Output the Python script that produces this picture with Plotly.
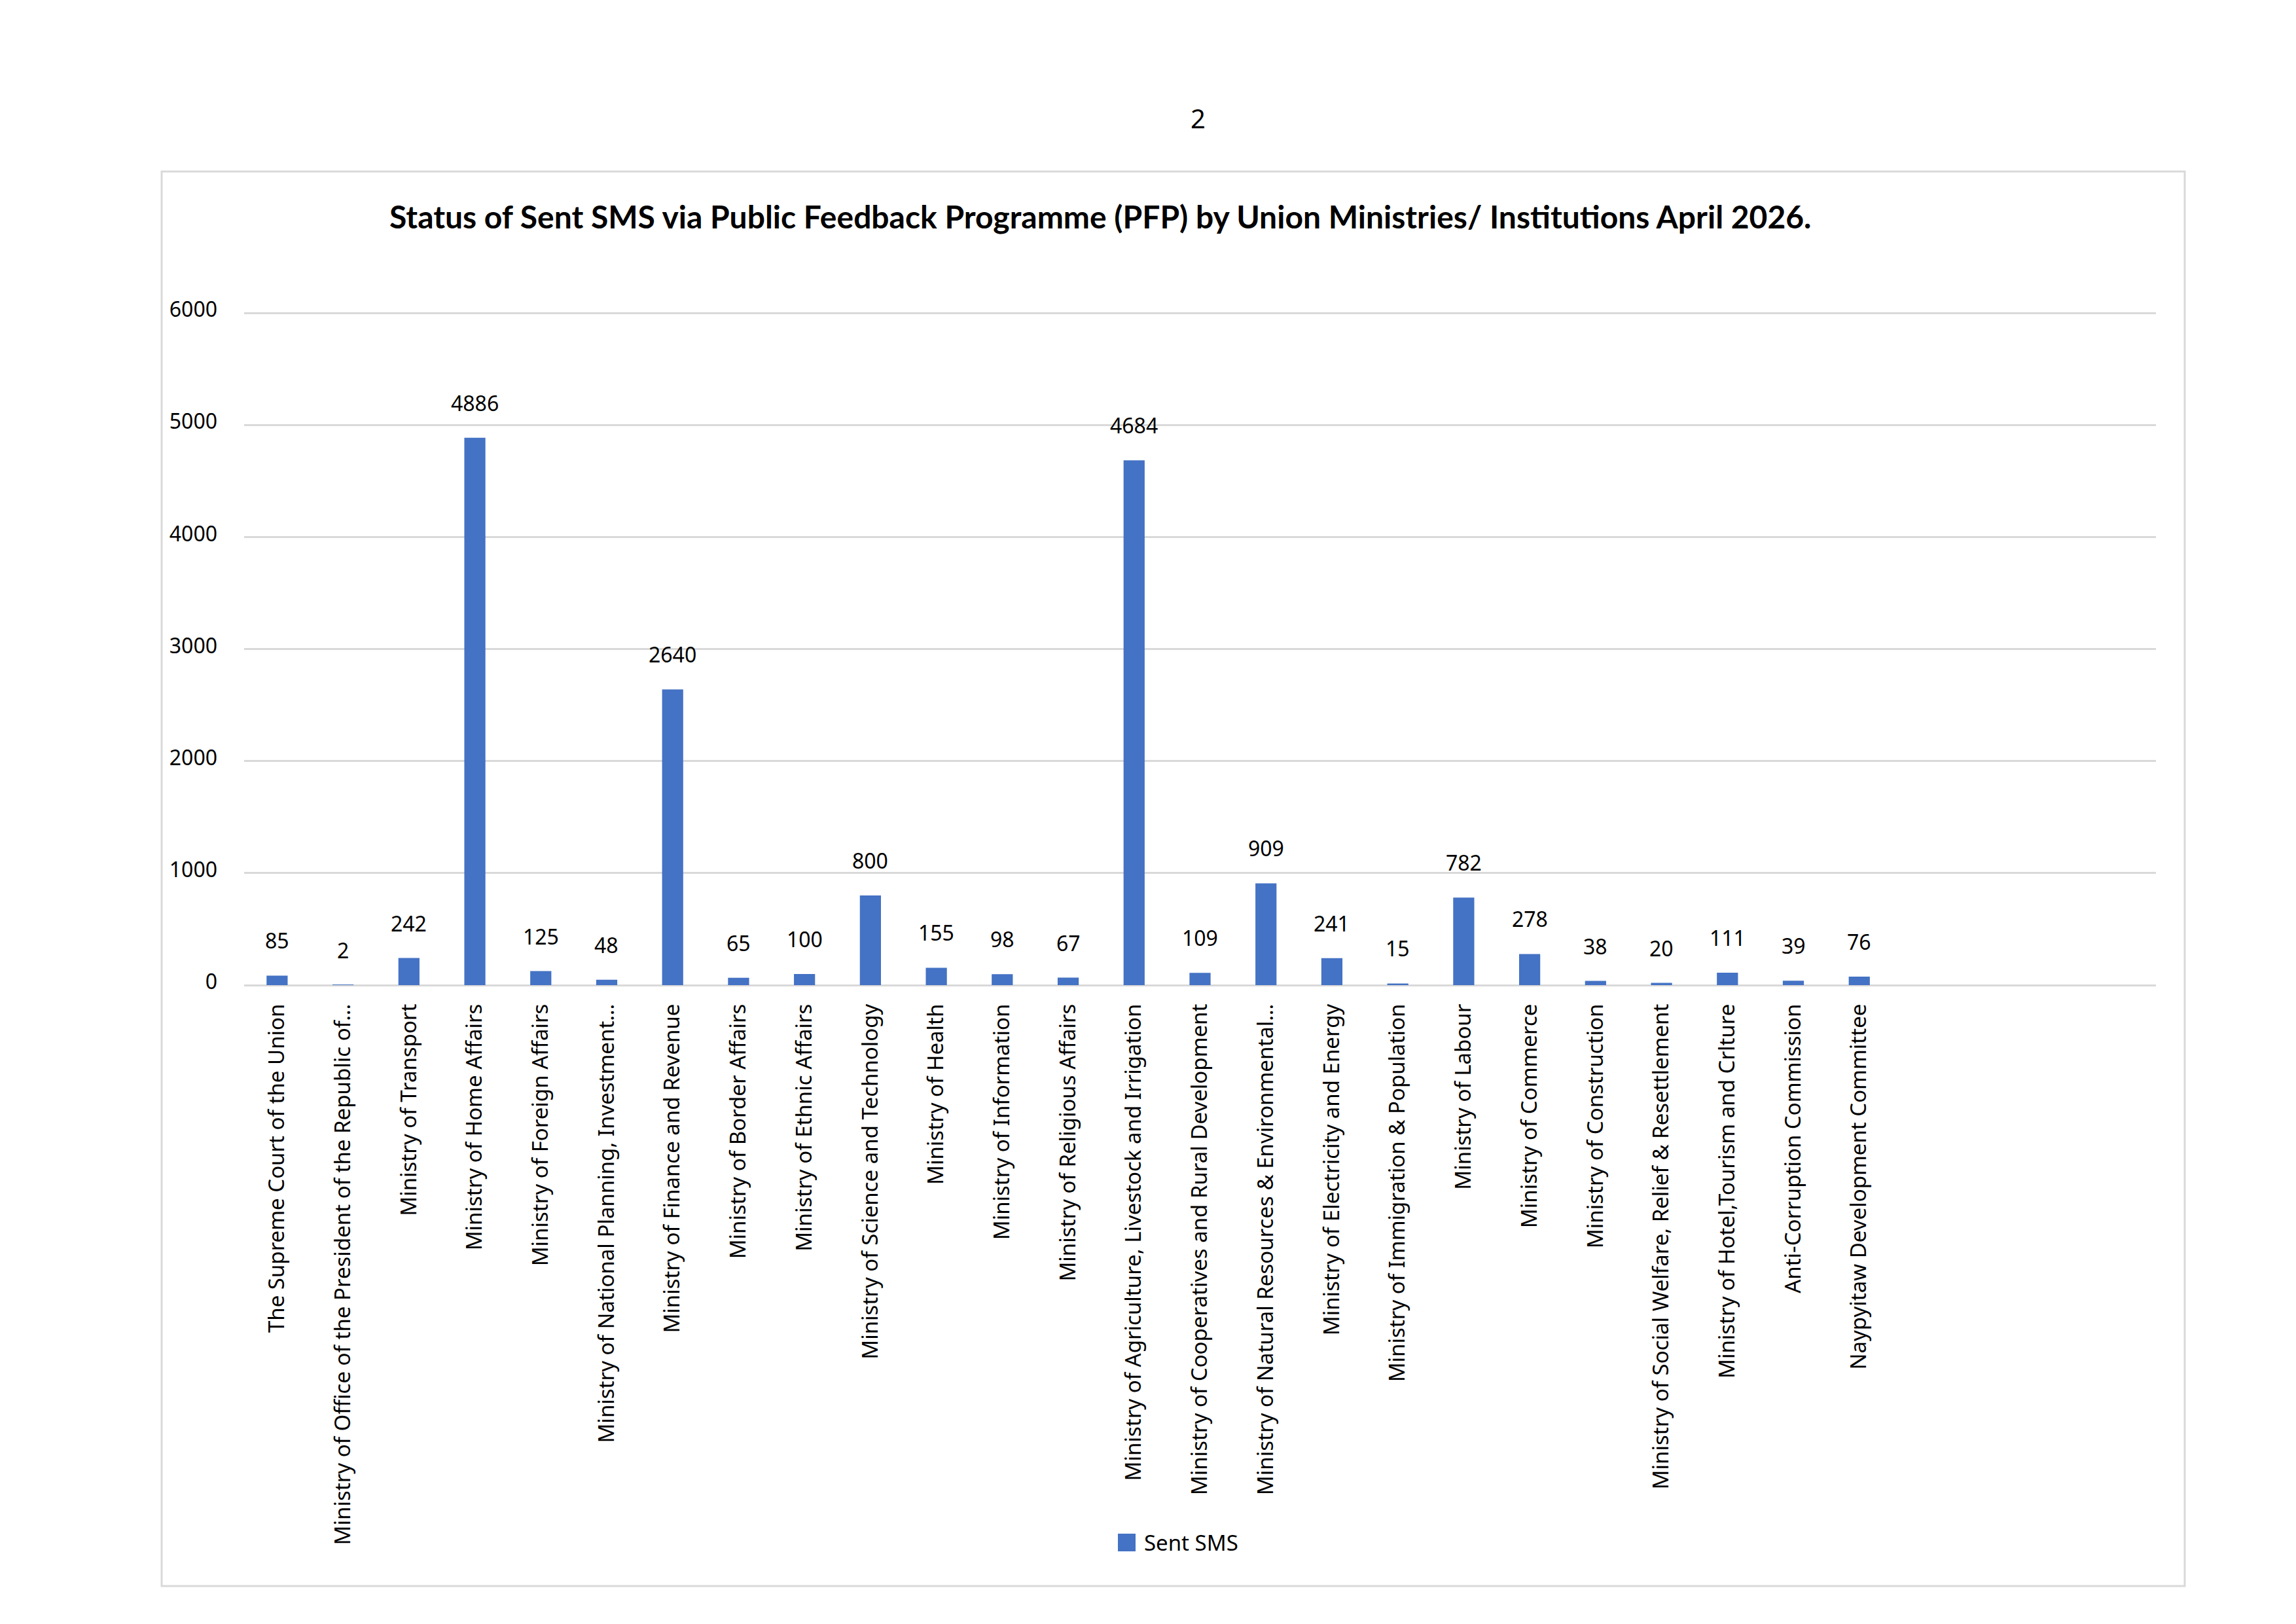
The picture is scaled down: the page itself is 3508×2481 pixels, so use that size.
import plotly.graph_objects as go

categories = [
    "The Supreme Court of the Union",
    "Ministry of Office of the President of the Republic of…",
    "Ministry of Transport",
    "Ministry of Home Affairs",
    "Ministry of Foreign Affairs",
    "Ministry of National Planning, Investment…",
    "Ministry of Finance and Revenue",
    "Ministry of Border Affairs",
    "Ministry of Ethnic Affairs",
    "Ministry of Science and Technology",
    "Ministry of Health",
    "Ministry of Information",
    "Ministry of Religious Affairs",
    "Ministry of Agriculture, Livestock and Irrigation",
    "Ministry of Cooperatives and Rural Development",
    "Ministry of Natural Resources & Environmental…",
    "Ministry of Electricity and Energy",
    "Ministry of Immigration & Population",
    "Ministry of Labour",
    "Ministry of Commerce",
    "Ministry of Construction",
    "Ministry of Social Welfare, Relief & Resettlement",
    "Ministry of Hotel,Tourism and Crlture",
    "Anti-Corruption Commission",
    "Naypyitaw Development Committee",
]
sent_sms = [85, 2, 242, 4886, 125, 48, 2640, 65, 100, 800, 155, 98, 67,
            4684, 109, 909, 241, 15, 782, 278, 38, 20, 111, 39, 76]
y_ticks = [0, 1000, 2000, 3000, 4000, 5000, 6000]
series_name = "Sent SMS"
title_text = ("Status of Sent SMS via Public Feedback Programme (PFP) by Union "
              "Ministries/ Institutions April 2026.")
page_number = "2"

W, H = 3508, 2481
OFF = 8  # default page body margin
L, R, T, B = 373, 3294, 476, 1505  # plot area in page pixels
Y_MAX = 6012  # a little headroom so the 6000 gridline is drawn
FONT = "Noto Sans"
TITLE_FONT = "Lato"
BLUE = "#4472C4"
GRID = "#D9D9D9"


def px_x(px):
    return (px - L) / (R - L)


def px_y(py):
    return (B - py) / (B - T)


fig = go.Figure()
fig.add_trace(go.Bar(
    x=categories, y=sent_sms, name=series_name,
    marker=dict(color=BLUE, line=dict(width=0)),
    width=0.32, showlegend=False,
))

for c, v in zip(categories, sent_sms):
    fig.add_annotation(x=c, y=v, xref="x", yref="y", text=str(v),
                       showarrow=False, yanchor="bottom", yshift=30,
                       font=dict(family=FONT, size=32, color="black"))

# title and page number
fig.add_annotation(x=px_x(1681), y=px_y(330), xref="paper", yref="paper",
                   text="<b>" + title_text + "</b>", showarrow=False,
                   xanchor="center", yanchor="middle",
                   font=dict(family=TITLE_FONT, size=48, color="black"))
fig.add_annotation(x=px_x(1830), y=px_y(180), xref="paper", yref="paper",
                   text=page_number, showarrow=False,
                   xanchor="center", yanchor="middle",
                   font=dict(family=FONT, size=40, color="black"))

# legend (square key + label)
fig.add_shape(type="rect", xref="paper", yref="paper",
              x0=px_x(1708), x1=px_x(1735), y0=px_y(2370), y1=px_y(2343),
              line=dict(width=0), fillcolor=BLUE)
fig.add_annotation(x=px_x(1746), y=px_y(2356), xref="paper", yref="paper",
                   text=series_name, showarrow=False,
                   xanchor="left", yanchor="middle",
                   font=dict(family=FONT, size=33, color="black"))

# chart-area border
fig.add_shape(type="rect", xref="paper", yref="paper",
              x0=px_x(247), x1=px_x(3338), y0=px_y(2423), y1=px_y(262),
              line=dict(color=GRID, width=3), fillcolor="rgba(0,0,0,0)",
              layer="below")

fig.update_layout(
    width=W - 2 * OFF, height=H - 2 * OFF,
    margin=dict(l=L - OFF, r=W - OFF - R, t=T - OFF, b=H - OFF - B,
                autoexpand=False),
    paper_bgcolor="white", plot_bgcolor="white",
    font=dict(family=FONT, size=32, color="black"),
    showlegend=False,
    xaxis=dict(range=[-0.5, 28.5], tickangle=-90, showgrid=False,
               showline=False, ticks="", ticklabelstandoff=21,
               tickfont=dict(family=FONT, size=33, color="black")),
    yaxis=dict(range=[0, Y_MAX], tickvals=y_ticks, showgrid=True,
               gridcolor=GRID, gridwidth=3, zeroline=True,
               zerolinecolor=GRID, zerolinewidth=3, showline=False,
               ticks="", ticklabelstandoff=40, ticklabelshift=-5,
               tickfont=dict(family=FONT, size=32, color="black")),
)

fig.write_html("out.html")
